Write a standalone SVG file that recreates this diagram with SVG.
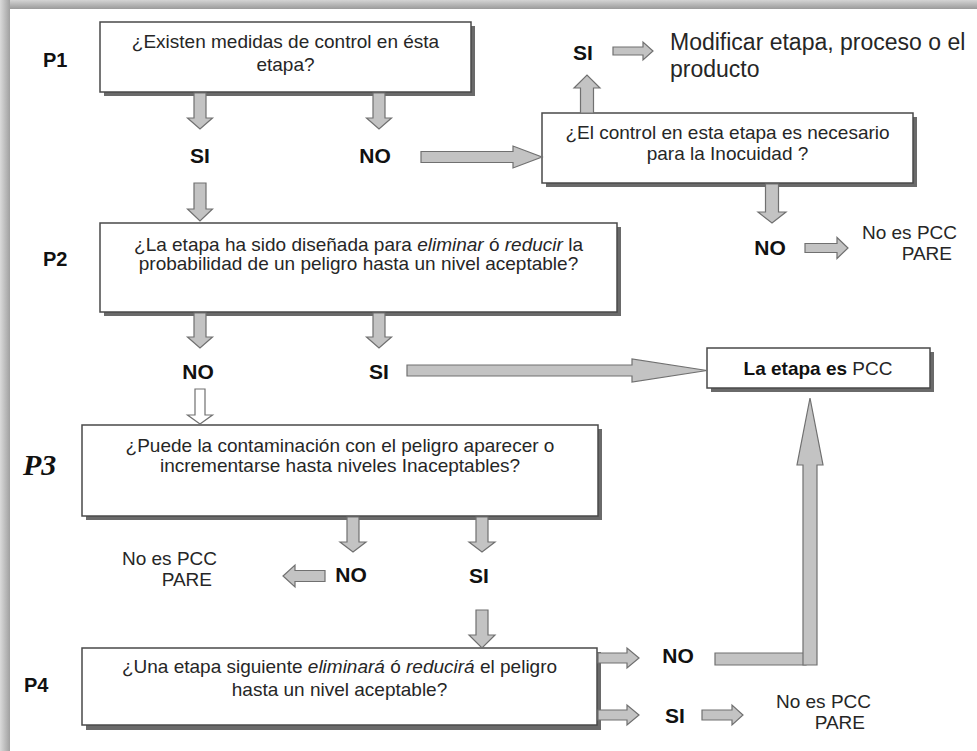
<svg xmlns="http://www.w3.org/2000/svg" width="977" height="751" viewBox="0 0 977 751">
<style>
.t{font-family:"Liberation Sans",Arial,sans-serif;font-size:19px;fill:#262626}
.b{font-family:"Liberation Sans",Arial,sans-serif;font-size:21px;font-weight:bold;fill:#111}
.p{font-family:"Liberation Sans",Arial,sans-serif;font-size:20px;font-weight:bold;fill:#111}
.c{text-anchor:middle}
.e{text-anchor:end}
.i{font-style:italic}
.box{fill:#fff;stroke:#4a4a4a;stroke-width:1.5}
.sh{fill:#6a6a6a}
.ar{fill:#c3c3c3;stroke:#707070;stroke-width:1.2;stroke-linejoin:miter}
.ah{fill:#fff;stroke:#707070;stroke-width:1.2}
</style>
<defs>
<linearGradient id="gt" x1="0" y1="0" x2="0" y2="1"><stop offset="0" stop-color="#d4d4d4"/><stop offset="1" stop-color="#9a9a9a"/></linearGradient>
<linearGradient id="gl" x1="0" y1="0" x2="1" y2="0"><stop offset="0" stop-color="#dadada"/><stop offset="1" stop-color="#a0a0a0"/></linearGradient>
</defs>
<g id="frame">
<rect x="0" y="0" width="977" height="751" fill="#fff"/>
<rect x="0" y="0" width="977" height="9" fill="url(#gt)"/>
<rect x="0" y="0" width="10" height="751" fill="url(#gl)"/>
</g>
<g id="labels">
<text class="p" x="43" y="67">P1</text>
<text class="p" x="43" y="266">P2</text>
<text x="23" y="475" style="font-family:'Liberation Serif','Times New Roman',serif;font-size:30px;font-weight:bold;font-style:italic;fill:#111">P3</text>
<text class="p" x="24" y="692">P4</text>
</g>
<g id="n-p1">
<rect class="sh" x="104" y="26" width="371" height="70"/>
<rect class="box" x="100" y="22" width="371" height="70"/>
<text class="t c" x="285.5" y="48">¿Existen medidas de control en ésta</text>
<text class="t c" x="285.5" y="71">etapa?</text>
</g>
<g id="n-control">
<rect class="sh" x="546" y="117" width="371" height="70"/>
<rect class="box" x="542" y="113" width="371" height="70"/>
<text class="t c" x="727.5" y="139">¿El control en esta etapa es necesario</text>
<text class="t c" x="727.5" y="160">para la Inocuidad ?</text>
</g>
<g id="n-modificar">
<text x="670" y="50" style="font-family:'Liberation Sans',Arial,sans-serif;font-size:23px;fill:#262626">Modificar etapa, proceso o el</text>
<text x="670" y="77" style="font-family:'Liberation Sans',Arial,sans-serif;font-size:23px;fill:#262626">producto</text>
</g>
<g id="n-p2">
<rect class="sh" x="104" y="227" width="517" height="89"/>
<rect class="box" x="100" y="223" width="517" height="89"/>
<text class="t c" x="358.5" y="251">¿La etapa ha sido diseñada para <tspan class="i">eliminar</tspan> ó <tspan class="i">reducir</tspan> la</text>
<text class="t c" x="358.5" y="270">probabilidad de un peligro hasta un nivel aceptable?</text>
</g>
<g id="n-pcc">
<rect class="sh" x="711" y="352" width="223" height="40"/>
<rect class="box" x="707" y="348" width="223" height="40"/>
<text class="t c" x="818" y="375"><tspan font-weight="bold" fill="#111">La etapa es </tspan>PCC</text>
</g>
<g id="n-p3">
<rect class="sh" x="86" y="429" width="516" height="91"/>
<rect class="box" x="82" y="425" width="516" height="91"/>
<text class="t c" x="340" y="452">¿Puede la contaminación con el peligro aparecer o</text>
<text class="t c" x="340" y="472">incrementarse hasta niveles Inaceptables?</text>
</g>
<g id="n-p4">
<rect class="sh" x="86" y="652" width="515" height="78"/>
<rect class="box" x="82" y="648" width="515" height="77"/>
<text class="t c" x="339.5" y="673">¿Una etapa siguiente <tspan class="i">eliminará</tspan> ó <tspan class="i">reducirá</tspan> el peligro</text>
<text class="t c" x="339.5" y="696">hasta un nivel aceptable?</text>
</g>
<g id="n-stop1">
<text class="t e" x="957" y="239">No es PCC</text>
<text class="t e" x="952" y="260">PARE</text>
</g>
<g id="n-stop2">
<text class="t e" x="217" y="565">No es PCC</text>
<text class="t e" x="212" y="586">PARE</text>
</g>
<g id="n-stop3">
<text class="t e" x="871" y="708">No es PCC</text>
<text class="t e" x="865" y="729">PARE</text>
</g>
<g id="answers">
<text class="b c" x="200" y="163">SI</text>
<text class="b c" x="375" y="163">NO</text>
<text class="b c" x="583" y="60">SI</text>
<text class="b c" x="770" y="255">NO</text>
<text class="b c" x="198" y="379">NO</text>
<text class="b c" x="379" y="379">SI</text>
<text class="b c" x="351" y="582">NO</text>
<text class="b c" x="479" y="583">SI</text>
<text class="b c" x="678" y="663">NO</text>
<text class="b c" x="675" y="723">SI</text>
</g>
<g id="connectors">
<polygon class="ar" points="194,93 206,93 206,118 212.5,118 200,129 187.5,118 194,118"/>
<polygon class="ar" points="373,93 385,93 385,118 391.5,118 379,129 366.5,118 373,118"/>
<polygon class="ar" points="194,183 206,183 206,209 212.5,209 200,221 187.5,209 194,209"/>
<polygon class="ar" points="421,151.5 513,151.5 513,146 542,157 513,168 513,162.5 421,162.5"/>
<polygon class="ar" points="580.5,113 580.5,88 574,88 587,75 600,88 593.5,88 593.5,113"/>
<polygon class="ar" points="613,47 643,47 643,42 653,51 643,60 643,55 613,55"/>
<polygon class="ar" points="765.5,184 778.5,184 778.5,212 786,212 772,223 758,212 765.5,212"/>
<polygon class="ar" points="805,243.5 837,243.5 837,237.5 848,248 837,258.5 837,252.5 805,252.5"/>
<polygon class="ar" points="194,313 206,313 206,337 212.5,337 200,348 187.5,337 194,337"/>
<polygon class="ar" points="373,313 385,313 385,337 391.5,337 379,348 366.5,337 373,337"/>
<polygon class="ar" points="407,365 632,365 632,359 707,370.5 632,382 632,376 407,376"/>
<polygon class="ah" points="195,389 205,389 205,415 212.5,415 200,424 187.5,415 195,415"/>
<polygon class="ar" points="347,517 359,517 359,542 366,542 353,552 340,542 347,542"/>
<polygon class="ar" points="476,517 488,517 488,542 495,542 482,552 469,542 476,542"/>
<polygon class="ar" points="325,570.5 295,570.5 295,565 283,576 295,587 295,581.5 325,581.5"/>
<polygon class="ar" points="476,610 488,610 488,635 495,635 482,648 469,635 476,635"/>
<polygon class="ar" points="598,653 627,653 627,648 639,658 627,668 627,663 598,663"/>
<polygon class="ar" points="598,710 627,710 627,705 639,715 627,725 627,720 598,720"/>
<polygon class="ar" points="702,710 732,710 732,705 743,715 732,725 732,720 702,720"/>
<polygon class="ar" points="715,653 806,653 806,665 715,665"/>
<polygon class="ar" points="803,665 803,465 797,465 810,398 823,465 817,465 817,665"/>
</g>
</svg>
